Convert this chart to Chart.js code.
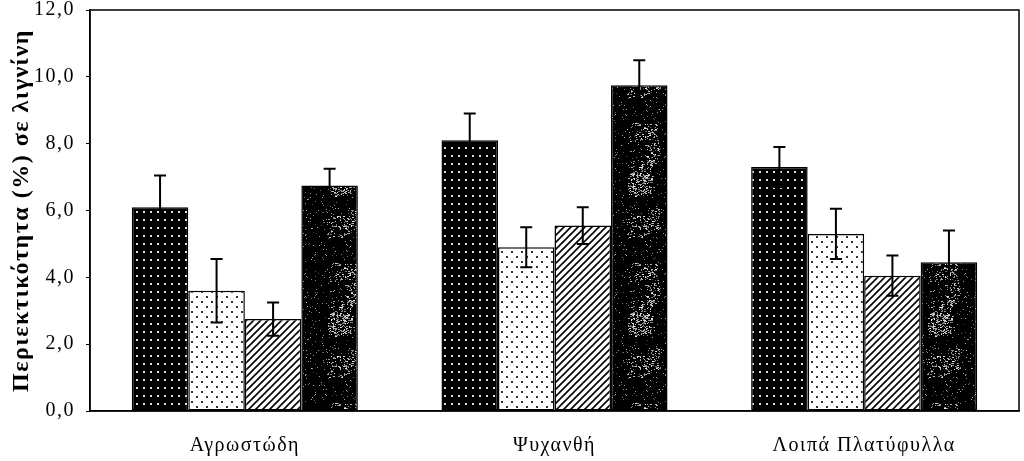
<!DOCTYPE html>
<html>
<head>
<meta charset="utf-8">
<script src="https://cdn.jsdelivr.net/npm/chart.js@4.4.1/dist/chart.umd.min.js"></script>
<style>
  body { margin: 0; background: #fff; }
  #wrap { width: 1024px; height: 461px; }
</style>
</head>
<body>
<div id="wrap"><canvas id="chart"></canvas></div>
<script>
// data
const categories = ["Αγρωστώδη", "Ψυχανθή", "Λοιπά Πλατύφυλλα"];
const series1 = [6.1, 8.1, 7.3];
const series2 = [3.6, 4.9, 5.3];
const series3 = [2.75, 5.55, 4.05];
const series4 = [6.75, 9.75, 4.45];
const err1 = [0.95, 0.8, 0.6];
const err2 = [0.95, 0.6, 0.75];
const err3 = [0.5, 0.55, 0.6];
const err4 = [0.5, 0.75, 0.95];
const yTicks = [0, 2, 4, 6, 8, 10, 12];

// fill patterns
function makePattern(w, h, draw) {
  const c = document.createElement("canvas");
  c.width = w;
  c.height = h;
  const g = c.getContext("2d");
  draw(g, w, h);
  return c.getContext("2d").createPattern(c, "repeat");
}

// black with white dots
const darkDots = makePattern(7, 8, (g, w, h) => {
  g.fillStyle = "#000";
  g.fillRect(0, 0, w, h);
  g.fillStyle = "#ddd";
  g.fillRect(3, 3, 2, 2);
});

// white with sparse black dots
const lightDots = makePattern(10, 10, (g, w, h) => {
  g.fillStyle = "#fff";
  g.fillRect(0, 0, w, h);
  g.fillStyle = "#333";
  g.fillRect(1, 1, 2, 2);
  g.fillRect(6, 6, 2, 2);
});

// diagonal hatch ///
const hatch = makePattern(7, 7, (g, w, h) => {
  g.fillStyle = "#fff";
  g.fillRect(0, 0, w, h);
  g.strokeStyle = "#000";
  g.lineWidth = 1.6;
  g.beginPath();
  g.moveTo(-1, h + 1);
  g.lineTo(w + 1, -1);
  g.moveTo(-1 - w, h + 1);
  g.lineTo(1, -1);
  g.moveTo(w - 1, h + 1);
  g.lineTo(2 * w + 1, -1);
  g.stroke();
});

// black with grey speckle, fixed seed so it looks the same every time
let seed = 12345;
function rnd() {
  seed = (seed * 1103515245 + 12345) % 2147483648;
  return seed / 2147483648;
}
const speckle = makePattern(60, 140, (g, w, h) => {
  g.fillStyle = "#000";
  g.fillRect(0, 0, w, h);
  // a few lighter clumps
  for (let k = 0; k < 7; k++) {
    const cx = rnd() * w;
    const cy = rnd() * h;
    for (let i = 0; i < 70; i++) {
      const x = Math.floor(cx + (rnd() - 0.5) * 22);
      const y = Math.floor(cy + (rnd() - 0.5) * 22);
      const v = 110 + Math.floor(rnd() * 130);
      g.fillStyle = "rgb(" + v + "," + v + "," + v + ")";
      g.fillRect(x, y, 1 + Math.floor(rnd() * 2), 1);
    }
  }
  // sparse single specks
  for (let i = 0; i < 350; i++) {
    const v = 70 + Math.floor(rnd() * 120);
    g.fillStyle = "rgb(" + v + "," + v + "," + v + ")";
    g.fillRect(Math.floor(rnd() * w), Math.floor(rnd() * h), 1, 1);
  }
});

const errors = [err1, err2, err3, err4];

const errorBars = {
  id: "errorBars",
  afterDatasetsDraw(chart) {
    const ctx = chart.ctx;
    const y = chart.scales.y;
    ctx.save();
    ctx.strokeStyle = "#000";
    ctx.lineWidth = 2;
    chart.data.datasets.forEach((ds, i) => {
      const meta = chart.getDatasetMeta(i);
      meta.data.forEach((bar, j) => {
        const v = ds.data[j];
        const e = errors[i][j];
        const top = y.getPixelForValue(v + e);
        const bot = y.getPixelForValue(v - e);
        ctx.beginPath();
        ctx.moveTo(bar.x, top);
        ctx.lineTo(bar.x, bot);
        ctx.moveTo(bar.x - 6, top);
        ctx.lineTo(bar.x + 6, top);
        ctx.moveTo(bar.x - 6, bot);
        ctx.lineTo(bar.x + 6, bot);
        ctx.stroke();
      });
    });
    ctx.restore();
  },
};

const frame = {
  id: "frame",
  beforeUpdate(chart) {
    chart.ctx.letterSpacing = "1.5px";
  },
  beforeDraw(chart) {
    chart.ctx.letterSpacing = "1.5px";
  },
  afterDraw(chart) {
    const a = chart.chartArea;
    const ctx = chart.ctx;
    ctx.save();
    ctx.strokeStyle = "#000";
    ctx.lineWidth = 1.5;
    ctx.strokeRect(a.left, a.top, a.right - a.left, a.bottom - a.top);
    ctx.restore();
  },
};

const serif = "'Liberation Serif', 'DejaVu Serif', serif";

function barSet(values, fill) {
  return {
    data: values,
    backgroundColor: fill,
    borderColor: "#000",
    borderWidth: 1.5,
    borderSkipped: false,
    categoryPercentage: 0.73,
    barPercentage: 1.0,
  };
}

new Chart(document.getElementById("chart"), {
  type: "bar",
  data: {
    labels: categories,
    datasets: [
      barSet(series1, darkDots),
      barSet(series2, lightDots),
      barSet(series3, hatch),
      barSet(series4, speckle),
    ],
  },
  options: {
    responsive: true,
    maintainAspectRatio: false,
    animation: false,
    layout: { padding: { top: 10, right: 5, left: 0, bottom: 0 } },
    plugins: {
      legend: { display: false },
      tooltip: { enabled: false },
    },
    scales: {
      x: {
        grid: { display: false, drawTicks: false },
        border: { color: "#000", width: 1.5 },
        ticks: {
          color: "#000",
          font: { family: serif, size: 20 },
          padding: 23,
        },
        afterFit(scale) {
          scale.height = 50;
          scale.paddingLeft = 0;
          scale.paddingRight = 0;
        },
      },
      y: {
        min: 0,
        max: 12,
        afterBuildTicks(scale) {
          scale.ticks = yTicks.map((v) => ({ value: v }));
        },
        grid: { drawOnChartArea: false, drawTicks: true, tickLength: 4, color: "#000" },
        border: { color: "#000", width: 1.5 },
        ticks: {
          color: "#000",
          font: { family: serif, size: 20 },
          padding: 11,
          callback: (v) => v.toFixed(1).replace(".", ","),
        },
        title: {
          display: true,
          text: "Περιεκτικότητα (%) σε λιγνίνη",
          color: "#000",
          font: { family: serif, size: 24, weight: "bold" },
          padding: { top: 7, bottom: 0 },
        },
        afterFit(scale) {
          scale.width = 90;
          scale.paddingTop = 0;
          scale.paddingBottom = 0;
        },
      },
    },
  },
  plugins: [errorBars, frame],
});
</script>
</body>
</html>
